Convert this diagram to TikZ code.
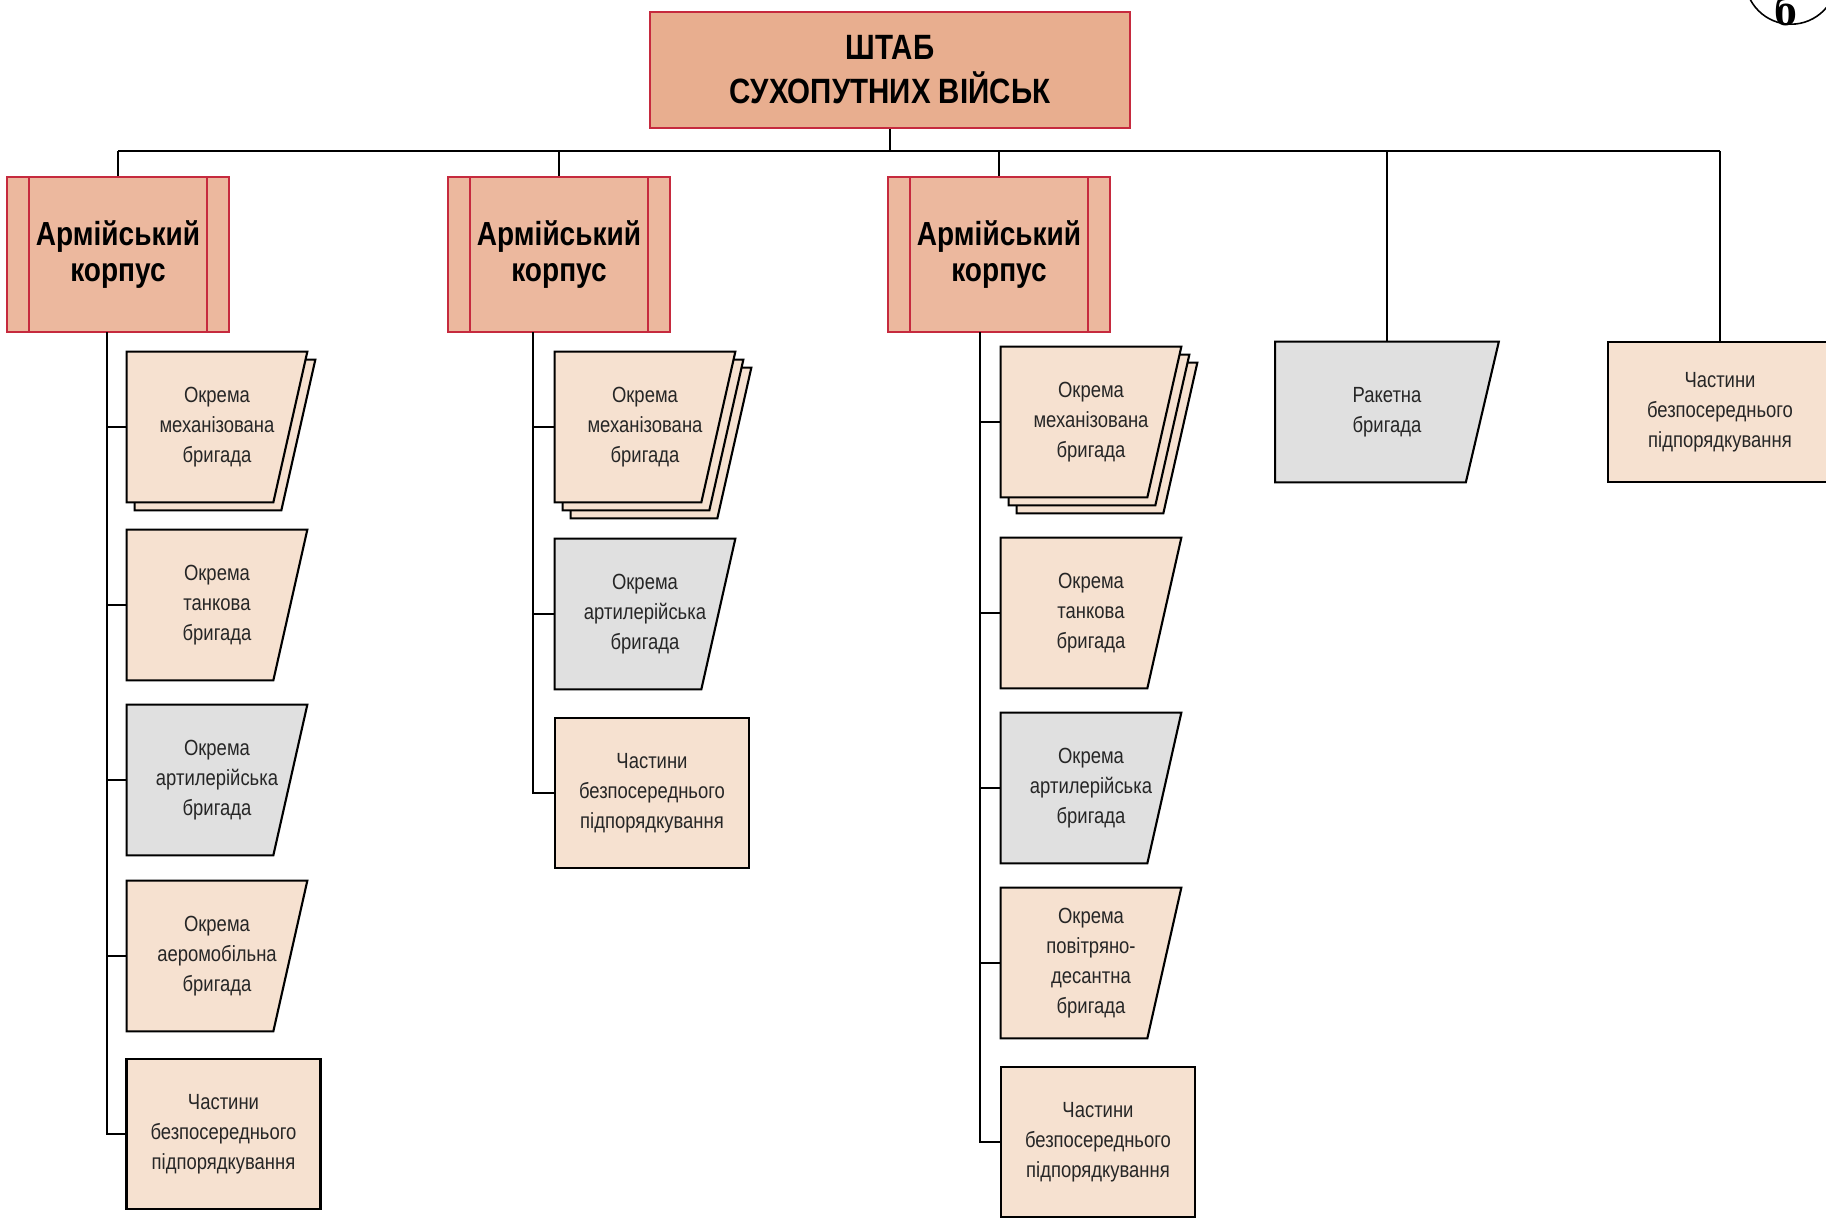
\documentclass[tikz,border=0pt]{standalone}
\usepackage{fontspec}
\setmainfont{Liberation Sans}[FakeStretch=0.84]
\newfontfamily\serifb{Liberation Serif}
\usetikzlibrary{backgrounds,shapes.geometric}
\definecolor{hqfill}{HTML}{E8AE8F}
\definecolor{corpsfill}{HTML}{ECB89E}
\definecolor{brigfill}{HTML}{F6E1D0}
\definecolor{artfill}{HTML}{E0E0E0}
\definecolor{redline}{HTML}{C62A3E}
\tikzset{
  hq/.style={draw=redline, fill=hqfill, line width=1.2pt, minimum width=9.6cm,
    minimum height=2.32cm, align=center, font=\bfseries\fontsize{20}{25}\selectfont},
  corps/.style={draw=redline, fill=corpsfill, line width=1.2pt, minimum width=4.44cm,
    minimum height=3.1cm, align=center, font=\bfseries\fontsize{19}{21}\selectfont,
    path picture={\draw[redline, line width=1.2pt]
      ([xshift=0.44cm]path picture bounding box.north west) -- ([xshift=0.44cm]path picture bounding box.south west)
      ([xshift=-0.44cm]path picture bounding box.north east) -- ([xshift=-0.44cm]path picture bounding box.south east);}},
  brig/.style={minimum width=3.6cm, minimum height=3cm, align=center, inner sep=0pt,
    text=black!85, font=\fontsize{12.5}{17}\selectfont},
  part/.style={brig, draw, fill=brigfill, line width=1.2pt, minimum width=3.88cm},
  link/.style={line width=1.2pt},
}
% brigade box with a slanted right side, #1 copies stacked behind it
\newcommand{\brigade}[5][0]{%
  \node[brig] (#2) at #3 {#5};
  \begin{pgfonlayer}{background}
    \ifnum#1>0
      \foreach \k in {#1,...,1}{
        \filldraw[fill=#4, line width=1.2pt]
          ([xshift=\k*0.16cm, yshift=-\k*0.16cm]#2.north west)
          -- ([xshift=\k*0.16cm, yshift=-\k*0.16cm]#2.north east)
          -- ([xshift=\k*0.16cm-0.68cm, yshift=-\k*0.16cm]#2.south east)
          -- ([xshift=\k*0.16cm, yshift=-\k*0.16cm]#2.south west) -- cycle;}
    \fi
    \filldraw[fill=#4, line width=1.2pt] (#2.north west) -- (#2.north east)
      -- ([xshift=-0.68cm]#2.south east) -- (#2.south west) -- cycle;
  \end{pgfonlayer}}

\begin{document}
\begin{tikzpicture}[x=0.02cm, y=-0.02cm]
\useasboundingbox (0,0) rectangle (1826,1218);
\clip (0,0) rectangle (1826,1218);
% headquarters and the corps
\node[hq] (hq) at (890,70) {ШТАБ\\СУХОПУТНИХ ВІЙСЬК};
\node[corps] (c1) at (118,254.5) {Армійський\\корпус};
\node[corps] (c2) at (559,254.5) {Армійський\\корпус};
\node[corps] (c3) at (999,254.5) {Армійський\\корпус};

% first corps
\brigade[1]{b11}{(217,427)}{brigfill}{Окрема\\механізована\\бригада}
\brigade{b12}{(217,605)}{brigfill}{Окрема\\танкова\\бригада}
\brigade{b13}{(217,780)}{artfill}{Окрема\\артилерійська\\бригада}
\brigade{b14}{(217,956)}{brigfill}{Окрема\\аеромобільна\\бригада}
\node[part] (b15) at (223.5,1134) {Частини\\безпосереднього\\підпорядкування};

% second corps
\brigade[2]{b21}{(645,427)}{brigfill}{Окрема\\механізована\\бригада}
\brigade{b22}{(645,614)}{artfill}{Окрема\\артилерійська\\бригада}
\node[part] (b23) at (652,793) {Частини\\безпосереднього\\підпорядкування};

% third corps
\brigade[2]{b31}{(1091,422)}{brigfill}{Окрема\\механізована\\бригада}
\brigade{b32}{(1091,613)}{brigfill}{Окрема\\танкова\\бригада}
\brigade{b33}{(1091,788)}{artfill}{Окрема\\артилерійська\\бригада}
\brigade{b34}{(1091,963)}{brigfill}{Окрема\\повітряно-\\десантна\\бригада}
\node[part] (b35) at (1098,1142) {Частини\\безпосереднього\\підпорядкування};

% rocket brigade and the units under the HQ
\node[brig, minimum width=4.46cm, minimum height=2.8cm] (rb) at (1387,412) {Ракетна\\бригада};
\begin{pgfonlayer}{background}
\filldraw[fill=artfill, line width=1.2pt] (rb.north west) -- (rb.north east)
  -- ([xshift=-0.66cm]rb.south east) -- (rb.south west) -- cycle;
\end{pgfonlayer}
\node[part, minimum width=4.48cm, minimum height=2.8cm] (rp) at (1720,412) {Частини\\безпосереднього\\підпорядкування};

% bus line
\coordinate (bus) at (0,151);
\draw[link] (hq.south) -- (hq.south |- bus);
\draw[link] (c1.north |- bus) -- (rp.north |- bus);
\foreach \n in {c1,c2,c3,rb,rp}
  \draw[link] (\n.north) -- (\n.north |- bus);

% trunks under the corps
\coordinate (t1) at (107,332);
\coordinate (t2) at (533,332);
\coordinate (t3) at (980,332);
\draw[link] (t1) |- (b15.west);
\draw[link] (t2) |- (b23.west);
\draw[link] (t3) |- (b35.west);
\foreach \b in {b11,b12,b13,b14}
  \draw[link] (\b.west -| t1) -- (\b.west);
\foreach \b in {b21,b22}
  \draw[link] (\b.west -| t2) -- (\b.west);
\foreach \b in {b31,b32,b33,b34}
  \draw[link] (\b.west -| t3) -- (\b.west);

% letter in the corner
\node[draw, circle, line width=0.9pt, minimum size=1.84cm, anchor=south] (mark) at (1791,25) {};
\node[font=\serifb\bfseries\fontsize{26}{26}\selectfont, anchor=base, inner sep=0pt] (markl) at ([xshift=-0.1cm]mark.south) {б};
\end{tikzpicture}
\end{document}
